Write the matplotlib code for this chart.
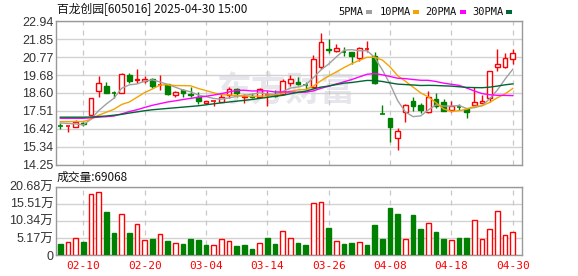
import matplotlib
matplotlib.use("Agg")
import matplotlib.pyplot as plt
from matplotlib.patches import Rectangle
import numpy as np
import pandas as pd

# ---------------- data ----------------
dates = (["02-05", "02-06", "02-07", "02-10", "02-11", "02-12", "02-13", "02-14",
          "02-17", "02-18", "02-19", "02-20", "02-21", "02-24", "02-25", "02-26",
          "02-27", "02-28"] +
         ["03-03", "03-04", "03-05", "03-06", "03-07", "03-10", "03-11", "03-12",
          "03-13", "03-14", "03-17", "03-18", "03-19", "03-20", "03-21", "03-24",
          "03-25", "03-26", "03-27", "03-28", "03-31"] +
         ["04-01", "04-02", "04-03", "04-07", "04-08", "04-09", "04-10", "04-11",
          "04-14", "04-15", "04-16", "04-17", "04-18", "04-21", "04-22", "04-23",
          "04-24", "04-25", "04-28", "04-29", "04-30"])

opens = [16.61, 16.59, 16.53, 16.77, 17.27, 18.69, 19.03, 18.59, 18.59, 19.69,
         19.37, 19.35, 19.45, 19.08, 19.14, 18.45, 18.75, 18.55, 18.35, 17.98,
         18.08, 18.06, 18.45, 18.85, 18.35, 18.44, 18.37, 18.44, 18.48, 18.52,
         19.23, 19.28, 19.08, 18.93, 20.17, 21.29, 21.14, 21.09, 21.06, 20.71,
         21.24, 20.83, 17.31, 17.05, 15.85, 17.44, 18.08, 17.84, 17.43, 18.24,
         18.02, 17.56, 17.74, 17.60, 17.88, 17.99, 18.31, 20.19, 20.18, 20.68]
closes = [16.59, 16.60, 16.83, 16.72, 18.30, 19.19, 18.61, 18.57, 19.73, 19.35,
          19.45, 19.45, 18.99, 19.10, 18.55, 18.65, 18.59, 18.45, 18.10, 18.08,
          18.10, 18.37, 18.83, 18.59, 18.40, 18.38, 18.83, 18.46, 18.44, 19.31,
          19.43, 19.17, 19.05, 20.67, 21.68, 21.20, 21.33, 21.07, 20.83, 21.33,
          21.25, 19.23, 17.30, 16.55, 16.28, 17.88, 17.80, 17.54, 18.37, 17.80,
          17.50, 17.80, 17.72, 17.44, 18.07, 18.13, 19.90, 20.37, 20.73, 21.04]
highs = [16.75, 16.60, 16.93, 16.83, 18.30, 19.63, 19.27, 18.73, 19.79, 19.81,
         20.04, 19.63, 19.51, 19.69, 19.17, 18.73, 18.85, 18.97, 18.63, 18.14,
         18.10, 18.53, 18.97, 18.89, 18.51, 18.61, 18.89, 18.73, 18.77, 19.44,
         19.71, 19.58, 19.24, 20.89, 22.25, 21.88, 21.54, 21.40, 21.06, 21.40,
         21.76, 21.05, 17.89, 17.05, 16.45, 17.90, 18.37, 17.96, 18.72, 18.61,
         18.24, 18.08, 17.90, 17.60, 18.97, 18.50, 19.90, 21.28, 21.04, 21.28]
lows = [16.39, 16.25, 16.53, 16.62, 17.25, 18.34, 18.57, 18.32, 18.57, 19.19,
        19.23, 19.19, 18.89, 18.78, 18.45, 18.37, 18.37, 18.37, 17.94, 17.94,
        17.82, 18.02, 18.31, 18.37, 17.98, 18.31, 18.33, 17.78, 18.37, 18.49,
        19.01, 19.05, 18.85, 18.91, 20.07, 21.01, 21.10, 20.84, 20.36, 20.56,
        21.08, 19.17, 17.30, 15.60, 15.14, 16.84, 17.52, 17.40, 17.40, 17.66,
        17.50, 17.46, 17.56, 17.10, 17.88, 17.99, 18.02, 19.93, 20.12, 20.36]
# volume in units of 10k (万)
volumes = [3.48, 3.98, 5.17, 4.08, 18.6, 19.2, 13.0, 6.77, 12.3, 6.77,
           9.35, 4.58, 4.98, 6.37, 4.38, 3.68, 3.18, 4.98, 4.68, 2.89,
           3.08, 4.88, 4.28, 2.59, 2.89, 1.69, 3.68, 5.27, 3.18, 7.26,
           5.17, 3.78, 2.89, 15.6, 15.9, 8.26, 4.28, 3.48, 3.78, 3.98,
           2.89, 9.15, 4.98, 14.2, 12.4, 4.88, 12.1, 7.96, 9.65, 7.06,
           4.98, 4.58, 5.27, 5.27, 10.5, 4.88, 7.86, 13.2, 6.07, 6.97]
first_vol_up = False  # colour of the first volume bar (previous close not shown)

# moving-average values at the start of the window (read off the chart,
# their windows reach back before the first candle)
ma5_lead = [16.78, 16.75, 16.72, 16.66]
ma10_lead = [16.86, 16.86, 16.87, 16.86, 17.01, 17.25, 17.43, 17.61, 17.90]
ma20_lead = [17.06, 17.06, 17.06, 17.06, 17.09, 17.13, 17.16, 17.20, 17.33, 17.47,
             17.58, 17.72, 17.85, 17.95, 18.05, 18.12, 18.20, 18.27, 18.34]
ma30_lead = [17.13, 17.13, 17.13, 17.13, 17.14, 17.17, 17.20, 17.25, 17.30, 17.38,
             17.45, 17.52, 17.58, 17.62, 17.66, 17.70, 17.74, 17.78, 17.82, 17.88,
             17.94, 18.00, 18.05, 18.10, 18.15, 18.20, 18.27, 18.33, 18.40]

price_ticks = [22.94, 21.85, 20.77, 19.68, 18.60, 17.51, 16.42, 15.34, 14.25]
vol_ticks = [0, 5.17, 10.34, 15.51, 20.68]
vol_tick_labels = ["0", "5.17万", "10.34万", "15.51万", "20.68万"]
xtick_dates = ["02-10", "02-20", "03-04", "03-14", "03-26", "04-08", "04-18", "04-30"]

title = "百龙创园[605016] 2025-04-30 15:00"
vol_title = "成交量:69068"
legend_names = ["5PMA", "10PMA", "20PMA", "30PMA"]

# ---------------- styling ----------------
RED = "#ff0000"
GREEN = "#008000"
MA_COLORS = ["#a0a0a0", "#f5a300", "#ff00ff", "#006633"]
GRID = "#d2d2d2"
FRAME = "#999999"
LABEL = "#333333"
CJK = ["Noto Sans CJK SC", "DejaVu Sans"]
NUM = ["Liberation Sans", "Noto Sans CJK SC"]
MONO = ["DejaVu Sans Mono"]

W, H = 578, 276
fig = plt.figure(figsize=(W / 100, H / 100), dpi=100)
fig.patch.set_facecolor("white")

def frac(x0, y0, x1, y1):
    return [x0 / W, 1 - y1 / H, (x1 - x0) / W, (y1 - y0) / H]

ax = fig.add_axes(frac(56, 21.3, 522, 164.7))
axv = fig.add_axes(frac(56, 186.7, 522, 255))

n = len(closes)
x = np.arange(n)
cl = pd.Series(closes)

def ma(win, lead):
    m = cl.rolling(win).mean().to_numpy()
    m[:len(lead)] = lead
    return m

mas = [ma(5, ma5_lead), ma(10, ma10_lead), ma(20, ma20_lead), ma(30, ma30_lead)]

tick_idx = [dates.index(d) for d in xtick_dates]
xlim = (-0.56, n - 1 + 1.2)

for a in (ax, axv):
    a.set_xlim(*xlim)
    for s in a.spines.values():
        s.set_color(FRAME)
        s.set_linewidth(1)
    a.tick_params(length=0, pad=2)
    for t in tick_idx:
        a.axvline(t, color="#c8c8c8", lw=0.9, ls=(0, (4, 4)), zorder=0.6)

# watermark
ax.text(29.5, 18.75, "东方财富", family=CJK, fontsize=25, fontweight="bold",
        color="#e6e6ec", ha="center", va="center", zorder=0.5, style="italic")

# price panel
ax.set_ylim(price_ticks[-1], price_ticks[0])
ax.set_yticks(price_ticks)
ax.set_yticklabels([f"{v:.2f}" for v in price_ticks], family=NUM, fontsize=9,
                   color=LABEL)
ax.set_xticks([])
ax.grid(axis="y", color=GRID, lw=1)
ax.set_axisbelow(True)

bw = 0.6
for i in range(n):
    o, c, h, l = opens[i], closes[i], highs[i], lows[i]
    up = c >= o
    col = RED if up else GREEN
    ax.vlines(i, l, h, color=col, lw=1, zorder=2)
    lo, hi = min(o, c), max(o, c)
    if hi - lo < 0.03:
        ax.hlines((o + c) / 2, i - bw / 2, i + bw / 2, color=col, lw=1.2, zorder=3)
    else:
        ax.add_patch(Rectangle((i - bw / 2, lo), bw, hi - lo,
                               facecolor="white" if up else GREEN,
                               edgecolor=col, lw=1, zorder=3))

for m, colr in zip(mas, MA_COLORS):
    ax.plot(x, m, color=colr, lw=1, zorder=4)

# volume panel
axv.set_ylim(0, vol_ticks[-1])
axv.set_yticks(vol_ticks)
axv.set_yticklabels(vol_tick_labels, family=NUM, fontsize=9, color=LABEL)
axv.grid(axis="y", color=GRID, lw=1)
axv.set_axisbelow(True)
axv.set_xticks(tick_idx)
axv.set_xticklabels(xtick_dates, family=MONO, fontsize=8, color=RED)
axv.tick_params(axis="x", pad=4)

for i in range(n):
    up = first_vol_up if i == 0 else closes[i] >= closes[i - 1]
    if up:
        axv.bar(i, volumes[i], width=bw, facecolor="white", edgecolor=RED, lw=1,
                zorder=3)
    else:
        axv.bar(i, volumes[i], width=bw, facecolor=GREEN, edgecolor=GREEN, lw=1,
                zorder=3)

# titles
fig.text(57 / W, 1 - 9 / H, title, family=CJK, fontsize=8.5, color="#111111",
         ha="left", va="center")
fig.text(57 / W, 1 - 177 / H, vol_title, family=CJK, fontsize=8.5,
         color="#111111", ha="left", va="center")

# legend
leg_text_x = [338, 380, 425, 472]
leg_sq_x = [366, 413, 460, 506]
for name, tx, sx, colr in zip(legend_names, leg_text_x, leg_sq_x, MA_COLORS):
    fig.text(tx / W, 1 - 12 / H, name, family=MONO, fontsize=7.5, color="#111111",
             ha="left", va="center")
    fig.patches.append(Rectangle((sx / W, 1 - 14 / H), 6 / W, 4 / H,
                                 transform=fig.transFigure, facecolor=colr,
                                 edgecolor="none"))

fig.savefig("out.png", dpi=100, facecolor="white")
